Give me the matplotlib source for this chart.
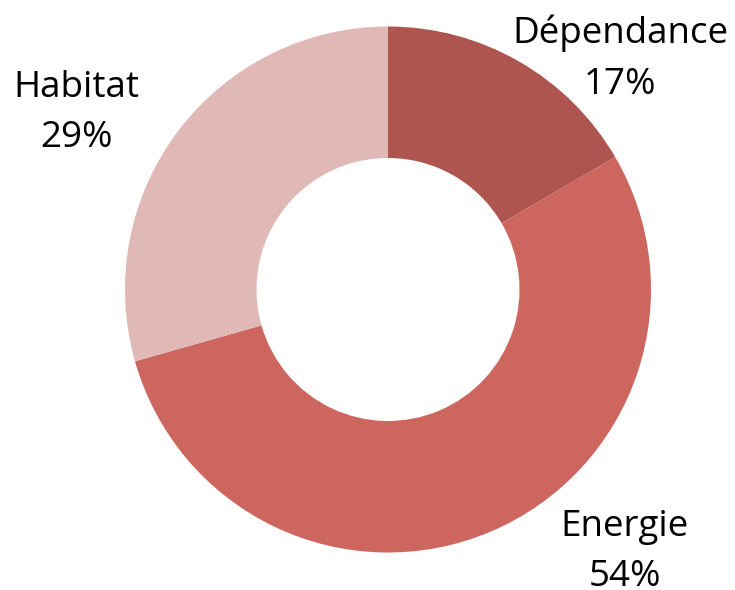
import matplotlib
matplotlib.use("Agg")
import matplotlib.pyplot as plt

categories = ["Dépendance", "Energie", "Habitat"]
values = [16.6, 54.0, 29.4]
colors = ["#AD554E", "#CC665F", "#E0B8B5"]

plt.rcParams['font.family'] = ['Open Sans', 'DejaVu Sans']

fig = plt.figure(figsize=(7.35, 5.9), dpi=100)
W, H = 735, 590
cx, cy, r = 388, 289.5, 263
ax = fig.add_axes([(cx - r) / W, (H - cy - r) / H, 2 * r / W, 2 * r / H])
ax.pie(values, colors=colors, startangle=90, counterclock=False,
       radius=1.0, wedgeprops=dict(width=0.5, edgecolor='none'))
ax.set_xlim(-1, 1)
ax.set_ylim(-1, 1)
ax.set_aspect('equal')
ax.axis('off')

# (x, baseline of name, baseline of percent) in data units
label_pos = [(0.882, 0.937, 0.743), (0.901, -0.936, -1.128), (-1.184, 0.732, 0.542)]
for cat, v, (x, y1, y2) in zip(categories, values, label_pos):
    ax.text(x, y1, cat, ha='center', va='baseline', fontsize=26.5,
            color='black', clip_on=False)
    ax.text(x, y2, f"{round(v)}%", ha='center', va='baseline', fontsize=26.5,
            color='black', clip_on=False)

fig.savefig("out.png", dpi=100)
